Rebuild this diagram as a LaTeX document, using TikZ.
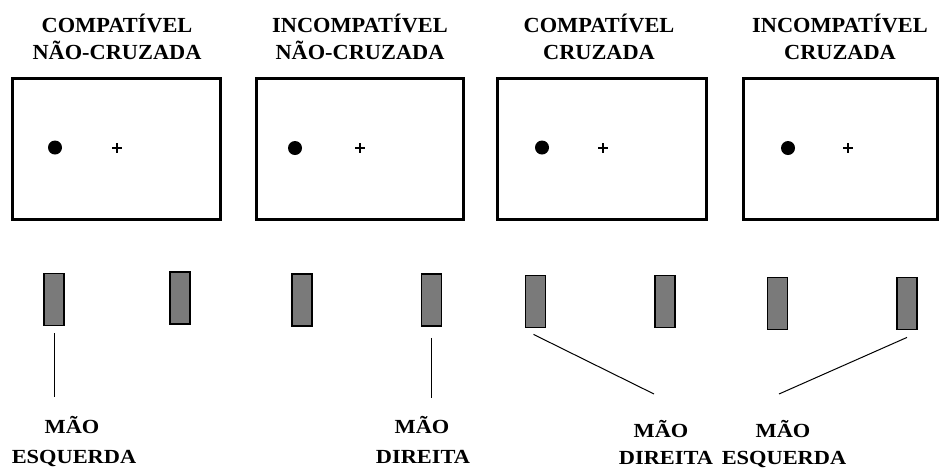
\documentclass[tikz,border=0pt]{standalone}
\usepackage{fontspec}
\setmainfont{Liberation Serif}
\newfontfamily\titlefont[FakeStretch=1.04]{Liberation Serif}
\newfontfamily\handfont[FakeStretch=1.12]{Liberation Serif}
\definecolor{keygray}{RGB}{122,122,122}
\begin{document}
\begin{tikzpicture}[x=1pt,y=-1pt,
  screen/.style={draw=black,line width=3pt,minimum width=#1,minimum height=141pt,inner sep=0pt},
  key/.style={draw=black,line width=1.8pt,fill=keygray,minimum width=20pt,minimum height=52pt,inner sep=0pt},
  title/.style={font=\titlefont\fontsize{21.5}{24}\selectfont\bfseries,anchor=base,inner sep=0pt},
  hand/.style={font=\handfont\fontsize{20}{24}\selectfont\bfseries,anchor=base,inner sep=0pt},
  stim/.style={circle,fill=black,minimum size=14pt,inner sep=0pt},
  fix/.style={minimum size=10pt,inner sep=0pt,
    path picture={\draw[line width=1.7pt] (path picture bounding box.north) -- (path picture bounding box.south)
      (path picture bounding box.west) -- (path picture bounding box.east);}},
  conn/.style={draw=black,line width=1pt}]
\useasboundingbox (0,0) rectangle (939,467);
% titles
\node[title] (t1a) at (117,32) {COMPATÍVEL};
\node[title] (t1b) at (117,59) {NÃO-CRUZADA};
\node[title] (t2a) at (360,32) {INCOMPATÍVEL};
\node[title] (t2b) at (360,59) {NÃO-CRUZADA};
\node[title] (t3a) at (599,32) {COMPATÍVEL};
\node[title] (t3b) at (599,59) {CRUZADA};
\node[title] (t4a) at (840,32) {INCOMPATÍVEL};
\node[title] (t4b) at (840,59) {CRUZADA};
% screens
\node[screen=208pt] (s1) at (116,148.5) {};
\node[screen=207pt] (s2) at (359.5,148.5) {};
\node[screen=209pt] (s3) at (601.5,148.5) {};
\node[screen=194pt] (s4) at (840,148.5) {};
% stimuli and fixation
\node[stim] (d1) at (55,147.5) {};
\node[fix] (f1) at (117,148) {};
\node[stim] (d2) at (295,148) {};
\node[fix] (f2) at (360,148) {};
\node[stim] (d3) at (542,147.5) {};
\node[fix] (f3) at (603,148) {};
\node[stim] (d4) at (788,148) {};
\node[fix] (f4) at (848,148) {};
% response keys
\node[key] (k1) at (54,299.5) {};
\node[key] (k2) at (180,298) {};
\node[key] (k3) at (302,300) {};
\node[key] (k4) at (431.5,300) {};
\node[key] (k5) at (535.5,301.5) {};
\node[key] (k6) at (665,301.5) {};
\node[key] (k7) at (777.5,303.5) {};
\node[key] (k8) at (907,303.5) {};
% hand labels
\node[hand] (h1a) at (72,433) {MÃO};
\node[hand] (h1b) at (74,463) {ESQUERDA};
\node[hand] (h2a) at (422,433) {MÃO};
\node[hand] (h2b) at (423,463) {DIREITA};
\node[hand] (h3a) at (661,437) {MÃO};
\node[hand] (h3b) at (666,464) {DIREITA};
\node[hand] (h4a) at (783,437) {MÃO};
\node[hand] (h4b) at (784,464) {ESQUERDA};
% connector ends
\coordinate (e1) at (54,397);
\coordinate (e2) at (431.5,398);
\coordinate (e3) at (654,394);
\coordinate (e4) at (779,394);
\draw[conn] ([yshift=-7pt]k1.south) -- (e1);
\draw[conn] ([yshift=-11pt]k4.south) -- (e2);
\draw[conn] ([xshift=-2pt,yshift=-6pt]k5.south) -- (e3);
\draw[conn] ([yshift=-7pt]k8.south) -- (e4);
\end{tikzpicture}
\end{document}
